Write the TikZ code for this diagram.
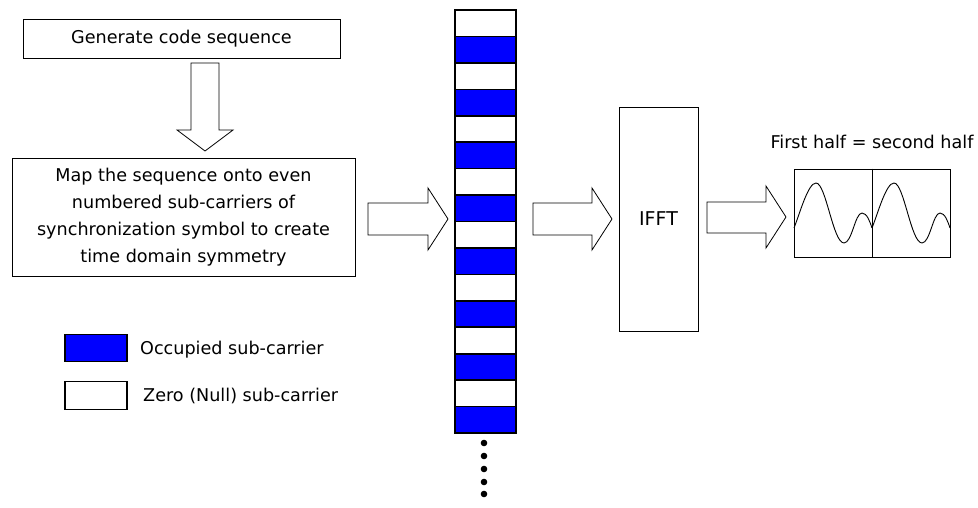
\documentclass[tikz,border=0pt]{standalone}
\usepackage{fontspec}
\setmainfont{DejaVu Sans}
\definecolor{occblue}{RGB}{0,0,255}
\begin{document}
\begin{tikzpicture}[x=1pt,y=-1pt,
  txt/.style={font=\fontsize{17.6}{27}\selectfont},
  box/.style={draw, line width=0.9pt, inner sep=0pt, txt, align=center},
  cell/.style={draw, line width=1.6pt, minimum width=61pt, minimum height=26.44pt, inner sep=0pt},
  legbox/.style={draw, line width=1.4pt, minimum width=62pt, minimum height=27.5pt, inner sep=0pt},
  blockarrow/.style={draw, line width=0.8pt, fill=white, line join=miter},
  wave/.style={line width=0.9pt}
]
\useasboundingbox (0,0) rectangle (978,508);

% boxes
\node[box, minimum width=317pt, minimum height=39pt] (gen) at (181.5,39) {Generate code sequence};
\node[box, minimum width=343pt, minimum height=118pt] (map) at (183.5,217)
  {Map the sequence onto even\\numbered sub-carriers of\\synchronization symbol to create\\time domain symmetry};

% down arrow
\draw[blockarrow] (191,63) -- (219,63) -- (219,130) -- (233,130) -- (205,151) -- (177,130) -- (191,130) -- cycle;

% column of sub-carriers
\foreach \i in {0,...,15}{
  \pgfmathtruncatemacro{\odd}{mod(\i,2)}
  \ifnum\odd=1
    \node[cell, fill=occblue] (c\i) at (485.5,{10+26.44*\i+13.22}) {};
  \else
    \node[cell, fill=white] (c\i) at (485.5,{10+26.44*\i+13.22}) {};
  \fi
}
\foreach \yy in {443,456,469,482,494}{
  \fill (484,\yy) circle (3.3);
}

% right arrows
\draw[blockarrow] (368,203) -- (428,203) -- (428,188) -- (448,219) -- (428,250) -- (428,235) -- (368,235) -- cycle;
\draw[blockarrow] (533,203) -- (592,203) -- (592,188) -- (612,219) -- (592,250) -- (592,235) -- (533,235) -- cycle;

% IFFT
\node[box, minimum width=79pt, minimum height=224pt, font=\fontsize{19}{22}\selectfont] (ifft) at (658.5,219) {IFFT};

\draw[blockarrow] (707,202) -- (766,202) -- (766,186) -- (786,217) -- (766,248) -- (766,233) -- (707,233) -- cycle;

% waveform
\node[draw, line width=0.9pt, minimum width=156pt, minimum height=88pt, inner sep=0pt] (wbox) at (872,213) {};
\draw[line width=0.9pt] (wbox.north) -- (wbox.south);
\foreach \ox in {0,78}{
  \begin{scope}[xshift=\ox]
  \draw[wave] (794,228) .. controls (800,213) and (808,183) .. (816,183)
     .. controls (826,183) and (833,243) .. (844,243)
     .. controls (852,243) and (855,213) .. (862,213)
     .. controls (867,213) and (870,222) .. (872,228);
  \end{scope}
}
\node[txt] (lbl) at (872,142) {First half = second half};

% legend
\node[legbox, fill=occblue] (lb1) at (96,348) {};
\node[legbox, fill=white] (lb2) at (96,395.5) {};
\node[txt, anchor=west, inner sep=0pt] (lt1) at (140,350) {Occupied sub-carrier};
\node[txt, anchor=west, inner sep=0pt] (lt2) at (143,396) {Zero (Null) sub-carrier};
\end{tikzpicture}
\end{document}
